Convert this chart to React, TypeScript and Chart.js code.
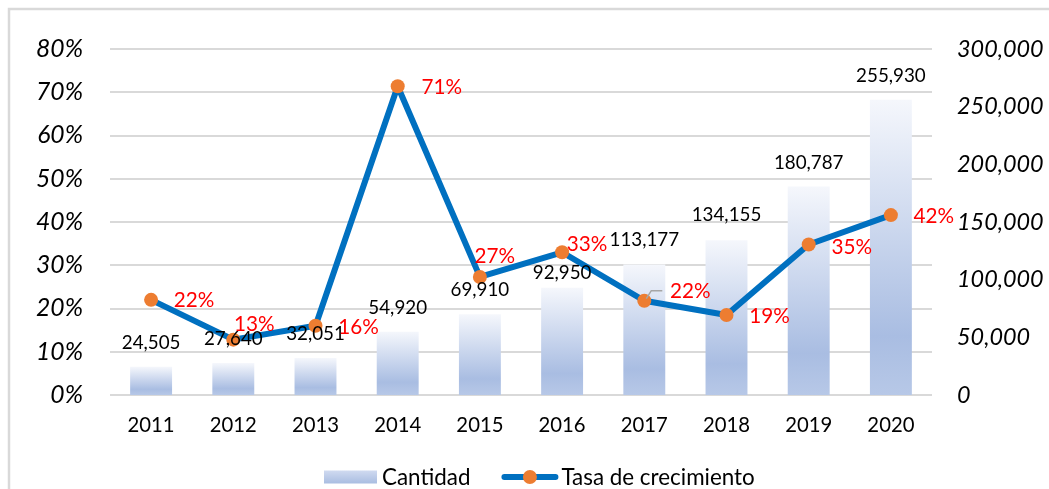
import React, { useEffect, useRef } from "react";
import { Chart, registerables } from "chart.js";

Chart.register(...registerables);

// ---- data ----
const years = ["2011", "2012", "2013", "2014", "2015", "2016", "2017", "2018", "2019", "2020"];
const cantidad = [24505, 27640, 32051, 54920, 69910, 92950, 113177, 134155, 180787, 255930];
const tasa = [22, 12.8, 16, 71.4, 27.3, 33, 21.8, 18.5, 34.8, 41.6];
const leftTickMax = 80;
const leftTickStep = 10;
const rightTickMax = 300000;
const rightTickStep = 50000;
const seriesNames = ["Cantidad", "Tasa de crecimiento"];

// label nudges (pixels, relative to the computed point / bar top)
const pctLabelOffsets: [number, number][] = [
  [43, 0], [21, -15], [43, 2], [44, 1], [15, -21], [25, -8], [46, -9], [43, 1], [43, 3], [43, 1],
];
const barLabelOffsets = [-24, -24, -24, -24, -24, -15, -25, -25, -24, -24];

const FONT = "Lato, 'Open Sans', sans-serif";
const fmt = (v: number) => v.toLocaleString("en-US");

// choose a font size so that a sample string has the width seen in the reference
function fitSize(text: string, targetWidth: number, style = "") {
  const c = document.createElement("canvas").getContext("2d");
  if (!c) return 20;
  c.font = `${style} 100px ${FONT}`;
  const w = c.measureText(text).width || 1;
  return Math.round((100 * targetWidth) / w * 10) / 10;
}

function barGradient(c: CanvasRenderingContext2D, top: number, bottom: number) {
  const g = c.createLinearGradient(0, top, 0, bottom);
  g.addColorStop(0, "#f5f7fc");
  g.addColorStop(0.8, "#a9bde2");
  g.addColorStop(1, "#b7c8e7");
  return g;
}

const framePlugin = {
  id: "frame",
  beforeDraw(chart: any) {
    const c = chart.ctx;
    c.save();
    c.fillStyle = "#ffffff";
    c.fillRect(0, 0, chart.width, chart.height);
    c.strokeStyle = "#d9d9d9";
    c.lineWidth = 2.5;
    c.strokeRect(9, 9, chart.width + 40, chart.height + 40);
    c.restore();
  },
};

export default function App() {
  const ref = useRef<HTMLCanvasElement | null>(null);

  useEffect(() => {
    document.body.style.margin = "0";
    const canvas = ref.current;
    if (!canvas) return;

    const leftSize = fitSize("80%", 47, "italic");
    const rightSize = fitSize("300,000", 86.7, "italic");
    const catSize = fitSize("2011", 47);
    const barLabelSize = fitSize("255,930", 69.7);
    const pctSize = fitSize("22%", 40.7);
    const legendSize = fitSize(seriesNames[1], 193);

    const labelsPlugin = {
      id: "valueLabels",
      afterDatasetsDraw(chart: any) {
        const c = chart.ctx;
        const barMeta = chart.getDatasetMeta(0);
        const lineMeta = chart.getDatasetMeta(1);
        c.save();
        c.font = `${barLabelSize}px ${FONT}`;
        c.fillStyle = "#000000";
        c.textAlign = "center";
        c.textBaseline = "middle";
        barMeta.data.forEach((el: any, i: number) => {
          c.fillText(fmt(cantidad[i]), el.x, el.y + barLabelOffsets[i]);
        });
        // leader line for 2017 label
        const p = lineMeta.data[6];
        if (p) {
          c.strokeStyle = "#a6a6a6";
          c.lineWidth = 1.5;
          c.beginPath();
          c.moveTo(p.x + 2, p.y - 2);
          c.lineTo(p.x + 7, p.y - 10);
          c.lineTo(p.x + 18, p.y - 10);
          c.stroke();
        }
        c.font = `${pctSize}px ${FONT}`;
        c.fillStyle = "#ff0000";
        lineMeta.data.forEach((el: any, i: number) => {
          const [dx, dy] = pctLabelOffsets[i];
          c.fillText(`${Math.round(tasa[i])}%`, el.x + dx, el.y + dy);
        });
        c.restore();
      },
    };

    const legendPlugin = {
      id: "customLegend",
      afterDraw(chart: any) {
        const c = chart.ctx;
        c.save();
        c.font = `${legendSize}px ${FONT}`;
        c.textBaseline = "middle";
        c.textAlign = "left";
        const y = 477;
        const swatchW = 53;
        const lineW = 57;
        let x = chart.width / 2 - 200.5;
        const g = c.createLinearGradient(0, y - 6.5, 0, y + 6.5);
        g.addColorStop(0, "#d0daf0");
        g.addColorStop(1, "#a9bde1");
        c.fillStyle = g;
        c.fillRect(x, y - 6.5, swatchW, 13);
        x += swatchW + 5;
        c.fillStyle = "#000000";
        c.fillText(seriesNames[0], x, y + 1);
        x += c.measureText(seriesNames[0]).width + 31;
        c.strokeStyle = "#0070c0";
        c.lineWidth = 6;
        c.lineCap = "round";
        c.beginPath();
        c.moveTo(x + 3, y);
        c.lineTo(x + lineW - 3, y);
        c.stroke();
        c.fillStyle = "#ed7d31";
        c.beginPath();
        c.arc(x + lineW / 2, y, 7, 0, Math.PI * 2);
        c.fill();
        x += lineW + 3;
        c.fillStyle = "#000000";
        c.fillText(seriesNames[1], x, y + 1);
        c.restore();
      },
    };

    const chart = new Chart(canvas, {
      type: "bar",
      data: {
        labels: years,
        datasets: [
          {
            type: "bar",
            label: seriesNames[0],
            data: cantidad,
            yAxisID: "yR",
            order: 2,
            barPercentage: 0.51,
            categoryPercentage: 1,
            borderWidth: 0,
            backgroundColor: (ctx: any) => {
              const ch = ctx.chart;
              const s = ch.scales && ch.scales.yR;
              if (!ch.chartArea || !s || ctx.type !== "data") return "#b4c7e7";
              const top = s.getPixelForValue(ctx.raw as number);
              const bottom = s.getPixelForValue(0);
              return barGradient(ch.ctx, top, bottom);
            },
          } as any,
          {
            type: "line",
            label: seriesNames[1],
            data: tasa,
            yAxisID: "yL",
            order: 1,
            borderColor: "#0070c0",
            borderWidth: 6,
            borderJoinStyle: "round",
            borderCapStyle: "round",
            tension: 0,
            pointRadius: 7,
            pointHoverRadius: 7,
            pointBackgroundColor: "#ed7d31",
            pointBorderWidth: 0,
          } as any,
        ],
      },
      options: {
        responsive: false,
        animation: false,
        layout: { padding: { top: 49, left: 0, right: 0, bottom: 0 } },
        plugins: {
          legend: { display: false },
          tooltip: { enabled: false },
        },
        scales: {
          x: {
            grid: { display: false, drawTicks: false },
            border: { display: false },
            ticks: {
              font: { family: FONT, size: catSize },
              color: "#000000",
              padding: 18,
              maxRotation: 0,
            },
            afterFit: (s: any) => {
              s.height = 94;
            },
          },
          yL: {
            position: "left",
            min: 0,
            max: leftTickMax,
            grid: { color: "#d9d9d9", lineWidth: 2, drawTicks: false },
            border: { display: false },
            ticks: {
              stepSize: leftTickStep,
              callback: (v: any) => `${v}%`,
              font: { family: FONT, size: leftSize, style: "italic" },
              color: "#000000",
              padding: 27,
            },
            afterFit: (s: any) => {
              s.width = 110;
            },
          },
          yR: {
            position: "right",
            min: 0,
            max: rightTickMax,
            grid: { display: false, drawTicks: false },
            border: { display: false },
            ticks: {
              stepSize: rightTickStep,
              callback: (v: any) => fmt(Number(v)),
              font: { family: FONT, size: rightSize, style: "italic" },
              color: "#000000",
              padding: 25,
            },
            afterFit: (s: any) => {
              s.width = 117;
            },
          },
        },
      } as any,
      plugins: [framePlugin, labelsPlugin, legendPlugin],
    });
    return () => chart.destroy();
  }, []);

  return <canvas ref={ref} width={1049} height={489} style={{ display: "block" }} />;
}
